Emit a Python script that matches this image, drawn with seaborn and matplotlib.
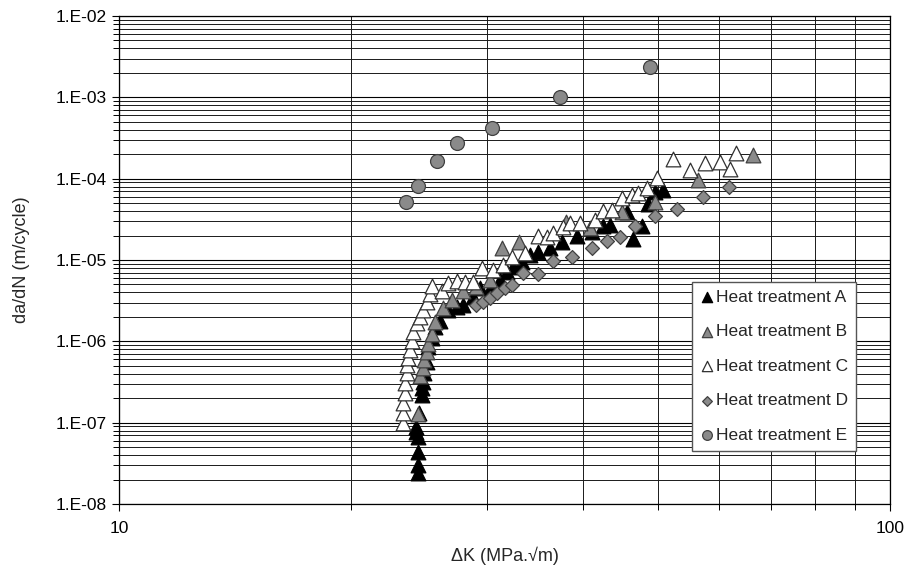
import numpy as np
import matplotlib
matplotlib.use("Agg")
import matplotlib.pyplot as plt
import seaborn as sns
from matplotlib.ticker import FixedLocator, FuncFormatter, NullFormatter

sns.set_style("white")
plt.rcParams['font.family'] = ['Liberation Sans', 'DejaVu Sans']

# ---- data (ΔK in MPa.√m, da/dN in m/cycle) ----
A_x = [24.4, 24.4, 24.4, 24.4, 24.3, 24.3, 24.5, 24.7, 24.7, 24.8, 24.9, 25.1, 25.2, 25.5, 25.7,
       26.1, 26.7, 27.4, 27.9, 28.8, 29.4, 30.5, 31.2, 31.9, 32.4, 33.3, 34.1, 34.9, 36.2,
       37.6, 39.3, 41.1, 42.4, 43.3, 45.6, 46.4, 47.7, 48.5, 49.6, 50.8]
A_y = [2.4e-8, 3.0e-8, 4.4e-8, 6.7e-8, 7.7e-8, 8.9e-8, 1.3e-7, 2.2e-7, 2.7e-7, 3.2e-7, 4.1e-7, 5.6e-7,
       8.5e-7, 1.1e-6, 1.5e-6, 1.8e-6, 2.4e-6, 2.65e-6, 2.8e-6, 3.5e-6, 4.5e-6, 4.9e-6, 5.7e-6,
       7.1e-6, 8.2e-6, 9.5e-6, 1.16e-5, 1.26e-5, 1.41e-5, 1.67e-5, 1.98e-5, 2.2e-5, 2.6e-5,
       2.7e-5, 3.9e-5, 1.82e-5, 2.6e-5, 4.9e-5, 6.9e-5, 7.3e-5]

B_x = [24.4, 24.6, 24.8, 24.9, 25.1, 25.2, 25.5, 25.7, 26.3, 27.0, 27.9, 29.0, 30.3, 31.4,
       33.0, 38.0, 40.8, 44.9, 49.6, 56.4, 66.4]
B_y = [1.28e-7, 3.75e-7, 4.7e-7, 5.9e-7, 7.4e-7, 9.3e-7, 1.23e-6, 1.73e-6, 2.6e-6, 3.2e-6,
       4.1e-6, 4.7e-6, 5.7e-6, 1.41e-5, 1.67e-5, 2.9e-5, 2.5e-5, 3.9e-5, 5.2e-5, 9.7e-5, 1.96e-4]

C_x = [23.36, 23.36, 23.36, 23.5, 23.5, 23.6, 23.6, 23.7, 23.85, 23.99, 24.06, 24.35, 24.57,
       24.79, 25.09, 25.31, 25.47, 26.24, 26.72, 27.45, 28.11, 28.79, 29.57, 30.56, 31.48,
       32.34, 33.62, 34.95, 35.9, 36.55, 37.66, 38.46, 39.63, 41.44, 42.45, 43.6, 44.93,
       46.29, 47.13, 48.41, 49.88, 52.3, 55.0, 57.56, 60.2, 62.0, 63.1]
C_y = [9.9e-8, 1.32e-7, 1.75e-7, 2.32e-7, 3.08e-7, 4.09e-7, 5.1e-7, 6.25e-7, 7.8e-7, 1.01e-6,
       1.31e-6, 1.68e-6, 2.0e-6, 2.43e-6, 3.05e-6, 3.83e-6, 4.8e-6, 4.17e-6, 5.2e-6, 5.5e-6,
       5.4e-6, 5.4e-6, 8.0e-6, 7.55e-6, 8.7e-6, 1.09e-5, 1.22e-5, 1.98e-5, 1.92e-5, 2.15e-5,
       2.55e-5, 2.86e-5, 2.86e-5, 3.11e-5, 4.0e-5, 4.13e-5, 5.8e-5, 6.3e-5, 6.7e-5, 7.7e-5,
       1.02e-4, 1.75e-4, 1.28e-4, 1.56e-4, 1.61e-4, 1.32e-4, 2.08e-4]

D_x = [29.04, 29.66, 30.28, 30.92, 31.67, 32.34, 33.42, 34.95, 36.55, 38.68, 41.07, 42.95,
       44.66, 46.71, 49.58, 52.93, 57.2, 61.8]
D_y = [2.8e-6, 3.05e-6, 3.42e-6, 3.94e-6, 4.54e-6, 4.94e-6, 6.94e-6, 6.75e-6, 9.75e-6, 1.09e-5,
       1.41e-5, 1.72e-5, 1.92e-5, 2.62e-5, 3.49e-5, 4.25e-5, 5.97e-5, 7.9e-5]

E_x = [23.56, 24.42, 25.85, 27.45, 30.47, 37.33, 48.83]
E_y = [5.19e-5, 8.15e-5, 1.66e-4, 2.76e-4, 4.2e-4, 1.01e-3, 2.37e-3]

labels = ["Heat treatment A", "Heat treatment B", "Heat treatment C",
          "Heat treatment D", "Heat treatment E"]

x_major = [10, 100]
y_major = [1e-8, 1e-7, 1e-6, 1e-5, 1e-4, 1e-3, 1e-2]

fig = plt.figure(figsize=(9.06, 5.67), dpi=100)
ax = fig.add_axes([119 / 906, 1 - 504 / 567, 771 / 906, 488 / 567])

styles = [
    (A_x, A_y, "^", "#000000", "#000000", 112),
    (B_x, B_y, "^", "#8a8a8a", "#404040", 112),
    (C_x, C_y, "^", "#ffffff", "#303030", 112),
    (D_x, D_y, "D", "#8a8a8a", "#404040", 50),
    (E_x, E_y, "o", "#8a8a8a", "#404040", 100),
]
for lab, (xs, ys, mk, fc, ec, s) in zip(labels, styles):
    sns.scatterplot(x=xs, y=ys, ax=ax, marker=mk, color=fc, edgecolor=ec,
                    s=s, linewidth=0.9, label=lab, zorder=3)

ax.set_xscale("log")
ax.set_yscale("log")
ax.set_xlim(10, 100)
ax.set_ylim(1e-8, 1e-2)

x_minor = [m * d for d in (10,) for m in range(2, 10)]
y_minor = [m * d for d in y_major[:-1] for m in range(2, 10)]
ax.xaxis.set_major_locator(FixedLocator(x_major))
ax.xaxis.set_minor_locator(FixedLocator(x_minor))
ax.yaxis.set_major_locator(FixedLocator(y_major))
ax.yaxis.set_minor_locator(FixedLocator(y_minor))
ax.xaxis.set_major_formatter(FuncFormatter(lambda v, p: f"{v:g}"))
ax.xaxis.set_minor_formatter(NullFormatter())
ax.yaxis.set_major_formatter(FuncFormatter(lambda v, p: f"1.E-{int(round(-np.log10(v))):02d}"))
ax.yaxis.set_minor_formatter(NullFormatter())

ax.set_axisbelow(True)
ax.grid(which="major", color="#000000", linewidth=0.8)
ax.grid(which="minor", color="#1a1a1a", linewidth=0.7)
for sp in ax.spines.values():
    sp.set_color("#000000")
    sp.set_linewidth(0.9)
    sp.set_visible(True)

ax.tick_params(which="both", direction="out", color="#000000", labelsize=12.5,
               labelcolor="#000000", left=True, bottom=True)
ax.tick_params(which="major", length=5, width=0.8, pad=4)
ax.tick_params(axis="x", which="major", pad=7)
ax.tick_params(which="minor", length=4, width=0.7)

ax.set_xlabel("ΔK (MPa.√m)", fontsize=13, labelpad=8)
ax.set_ylabel("da/dN (m/cycle)", fontsize=13, labelpad=18)

leg = ax.legend(loc="lower right", bbox_to_anchor=(0.956, 0.109), frameon=True,
                fancybox=False, edgecolor="#555555", framealpha=1, fontsize=12.5,
                markerscale=0.7, handletextpad=0.15, labelspacing=1.12,
                borderpad=0.45, handlelength=0.8, borderaxespad=0)
leg.get_frame().set_linewidth(1.0)
leg.set_zorder(5)

fig.savefig("out.png", dpi=100)
